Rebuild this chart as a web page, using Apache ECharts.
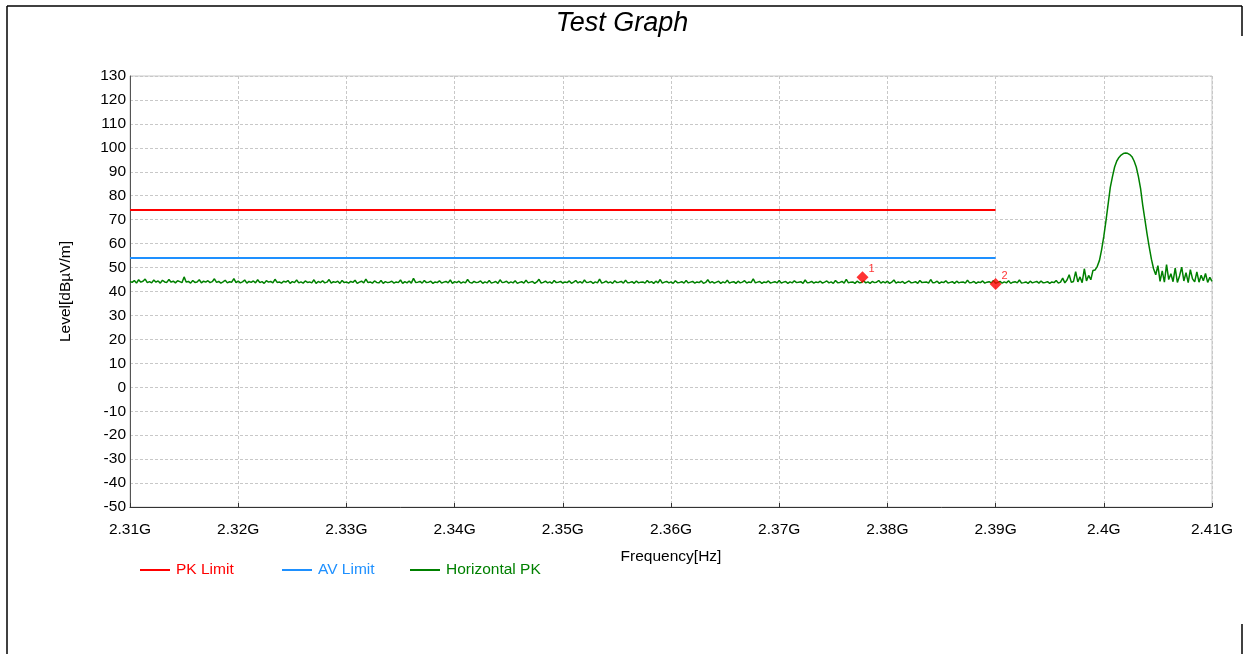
<!DOCTYPE html>
<html>
<head>
<meta charset="utf-8">
<script src="https://cdn.jsdelivr.net/npm/echarts@6/dist/echarts.min.js"></script>
<style>
html,body{margin:0;padding:0;background:#fff;}
#chart{width:1244px;height:654px;}
</style>
</head>
<body>
<div id="chart"></div>
<script>
// ---- data ----
const titleText = 'Test Graph';
const seriesNames = ['PK Limit', 'AV Limit', 'Horizontal PK'];
const xTicks = ['2.31G','2.32G','2.33G','2.34G','2.35G','2.36G','2.37G','2.38G','2.39G','2.4G','2.41G'];
const pkLimitFreq = [2.31, 2.39];
const pkLimitLevel = [74, 74];
const avLimitFreq = [2.31, 2.39];
const avLimitLevel = [54, 54];
// sweep: start 2.31 GHz, 0.2 MHz per point, 501 points
const sweepStart = 2.31;
const sweepStep = 0.0002;
const horizontalPK = [
44.2,43.8,44.6,43.5,44.9,43.9,44.3,45.2,43.7,44.1,43.6,44.8,43.9,44.4,43.5,44.7,44.0,43.8,45.0,43.9,
44.3,43.6,44.5,44.1,43.7,46.1,43.9,44.2,43.5,44.6,43.8,44.0,44.9,43.6,44.3,43.9,44.5,43.7,44.1,45.3,
43.8,44.2,43.5,44.0,44.7,43.6,44.1,43.9,45.4,43.7,44.3,43.6,44.0,44.8,43.5,44.2,43.8,44.4,43.6,44.9,
43.7,44.1,43.4,44.5,43.9,44.2,43.6,45.1,43.8,44.0,43.5,44.3,43.9,44.6,43.4,44.1,43.7,44.8,43.6,44.0,
43.5,44.4,43.8,44.0,43.6,44.9,43.4,44.2,43.7,44.5,43.6,43.9,45.0,43.5,44.1,43.8,44.3,43.4,44.6,43.7,
44.0,43.5,44.2,43.8,44.7,43.4,43.9,44.3,43.6,45.2,43.7,44.0,43.5,44.4,43.8,43.6,44.6,43.4,44.1,43.7,
43.9,44.3,43.5,44.0,43.7,44.8,43.4,44.1,43.6,44.4,43.5,45.5,43.8,43.9,44.2,43.5,44.6,43.7,43.9,44.3,
43.4,44.0,43.7,44.5,43.5,43.9,44.2,43.6,44.8,43.4,44.1,43.7,44.3,43.5,44.0,43.6,45.0,43.8,43.5,44.2,
43.7,43.9,44.4,43.4,44.0,43.6,44.6,43.5,43.8,44.2,43.4,44.9,43.7,43.9,44.3,43.5,44.0,43.6,44.5,43.4,
43.8,44.1,43.5,44.7,43.6,43.9,44.2,43.4,44.0,45.1,43.5,43.8,44.3,43.6,44.0,43.4,44.6,43.7,43.9,44.2,
43.5,44.0,43.7,44.4,43.4,43.9,44.6,43.6,44.1,43.5,44.8,43.7,43.9,44.2,43.4,44.0,43.6,45.2,43.5,43.8,
44.3,43.6,44.0,43.4,44.5,43.7,43.9,44.2,43.5,44.7,43.6,43.8,44.1,43.4,44.4,43.6,43.9,44.0,43.5,44.6,
43.7,44.1,43.4,44.3,43.6,45.0,43.5,43.9,44.2,43.6,44.0,43.4,44.5,43.7,43.8,44.1,43.5,44.6,43.6,43.9,
44.2,43.5,44.0,43.7,44.4,43.4,43.8,44.9,43.6,44.1,43.5,43.9,44.3,43.4,44.0,43.6,44.7,43.5,43.9,44.1,
43.4,44.3,43.6,43.9,44.5,43.5,44.0,43.7,45.3,43.6,43.9,44.2,43.4,44.0,43.7,44.4,43.5,43.8,44.1,43.6,
44.6,43.5,43.9,44.2,43.4,44.0,43.6,44.5,43.7,43.9,44.1,43.4,44.8,43.6,43.8,44.2,43.5,44.0,43.7,44.3,
43.5,43.9,44.4,43.6,44.0,43.4,44.6,43.7,43.8,44.2,43.5,45.1,43.6,43.9,44.0,43.4,44.3,43.7,43.8,44.5,
43.6,44.0,43.4,44.2,43.7,43.9,44.6,43.5,44.1,43.6,44.3,43.4,43.9,44.8,43.5,44.0,43.7,44.2,43.4,43.9,
44.4,43.6,43.8,44.1,43.4,44.6,43.7,43.9,44.0,43.5,45.0,43.6,43.8,44.3,43.4,44.0,43.7,44.5,43.5,43.8,
44.1,43.4,44.3,43.6,43.9,44.0,43.5,44.7,43.6,43.8,44.2,43.4,44.0,43.7,44.4,43.5,43.9,44.1,43.6,44.6,
43.4,43.8,44.2,43.5,44.0,43.6,44.5,43.4,43.9,44.1,43.6,44.8,43.5,43.7,44.0,43.4,44.3,43.6,43.9,44.2,
43.5,44.4,43.6,43.8,44.1,43.4,44.0,43.7,44.6,43.5,
43.9,45.6,43.6,44.8,47.0,43.8,44.2,48.3,44.0,46.1,43.7,49.5,44.4,46.7,44.9,48.8,
49.0,50.5,53.0,57.5,63.0,69.5,76.5,83.5,88.0,92.0,94.5,96.0,97.0,97.6,97.8,97.7,97.2,96.3,94.5,92.0,
88.0,83.0,76.0,70.0,64.0,58.5,53.5,49.5,47.0,
50.8,44.2,48.6,43.9,51.2,45.0,47.4,44.1,49.8,43.8,46.5,50.2,44.4,47.9,43.7,49.1,45.3,44.0,48.2,43.9,
46.8,44.5,47.5,43.8,45.9,44.2
];
const markerFreq = [2.3777, 2.39];
const markerLevel = [46.0, 43.1];
const markerLabels = ['1', '2'];

// ---- build ----
const pkData = pkLimitFreq.map((f, i) => [f, pkLimitLevel[i]]);
const avData = avLimitFreq.map((f, i) => [f, avLimitLevel[i]]);
const hData = horizontalPK.map((v, i) => [+(sweepStart + i * sweepStep).toFixed(4), v]);
const mData = markerFreq.map((f, i) => ({ value: [f, markerLevel[i]], label: { formatter: markerLabels[i] } }));

const FONT = '"Liberation Sans", Arial, sans-serif';
const RED = '#ff0000', BLUE = '#1e90ff', GREEN = '#008000';
const FS = 15.5;
const chart = echarts.init(document.getElementById('chart'), null, { renderer: 'canvas' });

const legendBase = (left, name, color) => ({
  left: left, top: 557, itemWidth: 30, itemHeight: 2, icon: 'rect', itemGap: 10,
  selectedMode: false,
  textStyle: { fontFamily: FONT, fontSize: FS, color: color, padding: [0, 0, 0, 1] },
  data: [{ name: name, itemStyle: { color: color } }]
});

chart.setOption({
  animation: false,
  backgroundColor: '#fff',
  title: {
    text: titleText, left: 'center', top: 5,
    textStyle: { fontFamily: FONT, fontSize: 27, fontStyle: 'italic', fontWeight: 'normal', color: '#000' }
  },
  legend: [
    legendBase(135, seriesNames[0], RED),
    legendBase(277, seriesNames[1], BLUE),
    legendBase(405, seriesNames[2], GREEN)
  ],
  grid: { left: 130, right: 32, top: 76, bottom: 147, show: true, borderColor: '#c8c8c8', borderWidth: 1, containLabel: false },
  xAxis: {
    type: 'value', min: 2.31, max: 2.41, interval: 0.01,
    name: 'Frequency[Hz]', nameLocation: 'middle', nameGap: 42,
    nameTextStyle: { fontFamily: FONT, fontSize: FS, color: '#000' },
    axisLine: { show: true, onZero: false, lineStyle: { color: '#333', width: 1 } },
    axisTick: { show: true, inside: true, length: 4, lineStyle: { color: '#333' } },
    axisLabel: {
      fontFamily: FONT, fontSize: FS, color: '#000', margin: 15,
      formatter: v => xTicks[Math.round((v - 2.31) / 0.01)] || ''
    },
    splitLine: { show: true, lineStyle: { color: '#c8c8c8', type: [3, 2], width: 1 } }
  },
  yAxis: {
    type: 'value', min: -50, max: 130, interval: 10,
    name: 'Level[dBµV/m]', nameLocation: 'middle', nameGap: 56,
    nameTextStyle: { fontFamily: FONT, fontSize: FS, color: '#000' },
    axisLine: { show: true, onZero: false, lineStyle: { color: '#555', width: 1 } },
    axisTick: { show: false },
    axisLabel: { fontFamily: FONT, fontSize: FS, color: '#000', margin: 4 },
    splitLine: { show: true, lineStyle: { color: '#c8c8c8', type: [3, 2], width: 1 } }
  },
  series: [
    { name: seriesNames[0], type: 'line', data: pkData, showSymbol: false, symbol: 'none',
      lineStyle: { color: RED, width: 2 }, itemStyle: { color: RED }, z: 3 },
    { name: seriesNames[1], type: 'line', data: avData, showSymbol: false, symbol: 'none',
      lineStyle: { color: BLUE, width: 2 }, itemStyle: { color: BLUE }, z: 3 },
    { name: seriesNames[2], type: 'line', data: hData, showSymbol: false, symbol: 'none',
      lineStyle: { color: GREEN, width: 1.5 }, itemStyle: { color: GREEN }, z: 2 },
    { name: 'Markers', type: 'scatter', data: mData, symbol: 'diamond', symbolSize: 12,
      itemStyle: { color: RED }, z: 5,
      label: { show: true, position: 'right', offset: [-5, -8], fontFamily: FONT, fontSize: 11, color: RED } }
  ],
  graphic: [
    { type: 'line', shape: { x1: 7, y1: 6, x2: 1242, y2: 6 }, style: { stroke: '#000', lineWidth: 1.5 } },
    { type: 'line', shape: { x1: 7, y1: 6, x2: 7, y2: 654 }, style: { stroke: '#000', lineWidth: 1.5 } },
    { type: 'line', shape: { x1: 1242, y1: 6, x2: 1242, y2: 36 }, style: { stroke: '#000', lineWidth: 1.5 } },
    { type: 'line', shape: { x1: 1242, y1: 624, x2: 1242, y2: 654 }, style: { stroke: '#000', lineWidth: 1.5 } }
  ]
});
</script>
</body>
</html>
